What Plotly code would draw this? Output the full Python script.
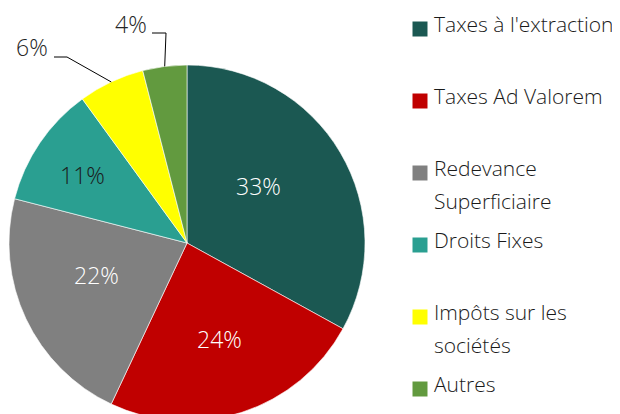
import math
import plotly.graph_objects as go

# ---- data ----
categories = ["Taxes à l'extraction", "Taxes Ad Valorem", "Redevance Superficiaire",
              "Droits Fixes", "Impôts sur les sociétés", "Autres"]
legend_lines = [["Taxes à l'extraction"], ["Taxes Ad Valorem"], ["Redevance", "Superficiaire"],
                ["Droits Fixes"], ["Impôts sur les", "sociétés"], ["Autres"]]
values = [33, 24, 22, 11, 6, 4]

# ---- style ----
colors = ["#1B5852", "#C00000", "#808080", "#2A9F91", "#FFFF00", "#629A3F"]
label_colors = ["#FFFFFF", "#FFFFFF", "#FFFFFF", "#1A1A1A", "#262626", "#262626"]
# inside label placement: (fraction of radius, angular shift in degrees from slice middle)
label_place = [(0.509, -6.8), (0.575, -0.5), (0.54, 4.8), (0.696, -1.7), None, None]
W, H = 620, 414
OFF = 8          # page body margin
FONT = "Open Sans"
PCT_SIZE = 23
LEG_SIZE = 21
NUDGE = -1.5     # vertical text nudge (px) so glyphs centre on target

cx, cy, r = 187, 243, 178   # window pixel geometry of the pie


def px(x):
    return (x - OFF) / W


def py(y):
    return 1 - (y - OFF) / H


fig = go.Figure()
fig.add_trace(go.Pie(
    labels=categories, values=values, sort=False, direction="clockwise", rotation=0,
    marker=dict(colors=colors, line=dict(color="white", width=0.6)),
    textinfo="none", hoverinfo="label+percent", showlegend=False,
    domain=dict(x=[px(cx - r), px(cx + r)], y=[max(0, py(cy + r)), py(cy - r)]),
))

annotations = []
shapes = []
total = sum(values)
cum = 0
# outside label placements (window pixels) for the two small slices
outside = {4: dict(elbow=(67, 57), end=(54, 57), label=(32.5, 48.5)),
           5: dict(elbow=(166, 33), end=(152, 33), label=(130.5, 25.5))}
for i, v in enumerate(values):
    mid = (cum + v / 2) / total * 2 * math.pi
    cum += v
    txt = f"{round(v / total * 100)}%"
    font = dict(family=FONT, size=PCT_SIZE, color=label_colors[i], weight=300)
    if label_place[i] is not None:
        frac, shift = label_place[i]
        a = mid + math.radians(shift)
        x = cx + r * frac * math.sin(a)
        y = cy - r * frac * math.cos(a)
        annotations.append(dict(x=px(x), y=py(y + NUDGE), xref="paper", yref="paper", text=txt,
                                showarrow=False, xanchor="center", yanchor="middle", font=font))
    else:
        o = outside[i]
        ex = cx + r * math.sin(mid)
        ey = cy - r * math.cos(mid)
        path = (f"M {px(ex)} {py(ey)} L {px(o['elbow'][0])} {py(o['elbow'][1])} "
                f"L {px(o['end'][0])} {py(o['end'][1])}")
        shapes.append(dict(type="path", xref="paper", yref="paper", path=path,
                           line=dict(color="#000000", width=1)))
        annotations.append(dict(x=px(o["label"][0]), y=py(o["label"][1] + NUDGE), xref="paper",
                                yref="paper", text=txt, showarrow=False, xanchor="center",
                                yanchor="middle", font=font))

# ---- manual legend (window pixels) ----
leg_x0, leg_sq, leg_tx = 412.5, 15, 432
leg_y0, leg_step, line_step = 29, 72, 33
for i, lines in enumerate(legend_lines):
    yc = leg_y0 + i * leg_step
    shapes.append(dict(type="rect", xref="paper", yref="paper",
                       x0=px(leg_x0), x1=px(leg_x0 + leg_sq), y0=py(yc + leg_sq / 2), y1=py(yc - leg_sq / 2),
                       fillcolor=colors[i], line=dict(width=0)))
    for j, ln in enumerate(lines):
        annotations.append(dict(x=px(leg_tx), y=py(yc - 3.5 + j * line_step + NUDGE), xref="paper",
                                yref="paper", text=ln, showarrow=False, xanchor="left", yanchor="middle",
                                font=dict(family=FONT, size=LEG_SIZE, color="#1A1A1A", weight=300)))

fig.update_layout(
    width=W, height=H, margin=dict(l=0, r=0, t=0, b=0),
    paper_bgcolor="white", plot_bgcolor="white",
    annotations=annotations, shapes=shapes, showlegend=False,
)
fig.write_html("out.html")
